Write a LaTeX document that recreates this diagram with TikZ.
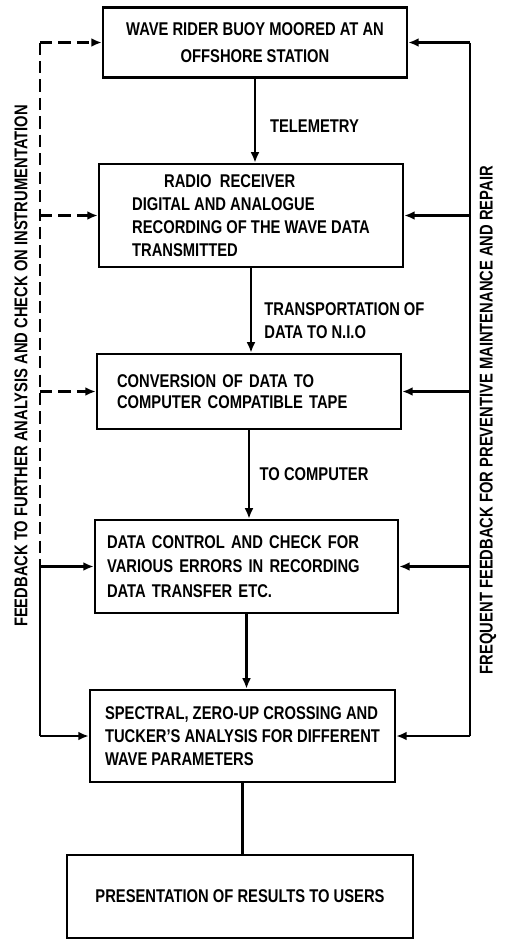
\documentclass[tikz,border=0pt]{standalone}
\usepackage{fontspec}
\setmainfont{Liberation Sans}[FakeStretch=0.8]
\usetikzlibrary{arrows.meta,positioning}

\begin{document}
\begin{tikzpicture}[
  x=0.02cm, y=-0.02cm,
  box/.style={draw, line width=1.4pt, align=left, inner sep=0pt,
              font=\fontsize{10.5}{13}\selectfont\bfseries},
  lbl/.style={inner sep=0pt, align=left, font=\fontsize{10.5}{13}\selectfont\bfseries},
  flow/.style={line width=1.2pt, -{Latex[length=6pt,width=5pt]}},
  fb/.style={line width=1.2pt},
  fbdash/.style={fb, dash pattern=on 7pt off 3.5pt}
]
\useasboundingbox (0,0) rectangle (508,941);

% main chain
\node[box, minimum width=6.08cm, minimum height=1.4cm, align=center,
      font=\fontsize{10.5}{15}\selectfont\bfseries] (buoy) at (255,42.5)
  {WAVE RIDER BUOY MOORED AT AN\\OFFSHORE STATION};
\node[box, minimum width=6.08cm, minimum height=2.06cm] (radio) at (251,215.5)
  {\hspace*{0.64cm}RADIO\ \ RECEIVER\\DIGITAL AND ANALOGUE\\
   RECORDING OF THE WAVE DATA\\TRANSMITTED};
\node[box, minimum width=6.08cm, minimum height=1.5cm, text width=5.28cm,
      font=\fontsize{10.5}{12}\selectfont\bfseries] (conv) at (249,391.5)
  {CONVERSION OF DATA TO\\COMPUTER COMPATIBLE TAPE};
\node[box, minimum width=6.06cm, minimum height=1.86cm, text width=5.58cm,
      font=\fontsize{10.5}{14}\selectfont\bfseries] (check) at (246.5,566.5)
  {DATA CONTROL AND CHECK FOR\\VARIOUS ERRORS IN RECORDING\\DATA TRANSFER ETC.};
\node[box, minimum width=6.1cm, minimum height=1.84cm] (anal) at (242.5,736)
  {SPECTRAL, ZERO-UP CROSSING AND\\TUCKER'S ANALYSIS FOR DIFFERENT\\WAVE PARAMETERS};
\node[box, minimum width=6.92cm, minimum height=1.66cm, align=center] (pres) at (240,896.5)
  {PRESENTATION OF RESULTS TO USERS};

\draw[flow] (buoy.south) -- node[lbl, right=8pt, pos=0.57] {TELEMETRY}
  (buoy.south |- radio.north);
\draw[flow] (radio.south) -- node[lbl, right=7pt, pos=0.62] {TRANSPORTATION OF\\DATA TO N.I.O}
  (radio.south |- conv.north);
\draw[flow] (conv.south) -- node[lbl, right=5.5pt] {TO COMPUTER}
  (conv.south |- check.north);
\draw[flow] (check.south) -- (check.south |- anal.north);
\draw[fb] (anal.south) -- (anal.south |- pres.north);

% feedback on the left
\coordinate (lbus) at (40,0);
\draw[fbdash] (lbus |- buoy.west) -- (lbus |- check.west);
\draw[fb] (lbus |- check.west) -- (lbus |- anal.west);
\draw[fbdash, flow] (lbus |- buoy.west) -- (buoy.west);
\draw[fbdash, flow] (lbus |- radio.west) -- (radio.west);
\draw[fbdash, flow] (lbus |- conv.west) -- (conv.west);
\draw[flow] (lbus |- check.west) -- (check.west);
\draw[flow] (lbus |- anal.west) -- (anal.west);
\node[lbl, rotate=90] (fbleft) at (21,366)
  {FEEDBACK TO FURTHER ANALYSIS AND CHECK ON INSTRUMENTATION};

% feedback on the right
\coordinate (rbus) at (470,0);
\draw[fb] (rbus |- buoy.east) -- (rbus |- anal.east);
\foreach \b in {buoy,radio,conv,check,anal}
  \draw[flow] (rbus |- \b.east) -- (\b.east);
\node[lbl, rotate=90] (fbright) at (488,420)
  {FREQUENT FEEDBACK FOR PREVENTIVE MAINTENANCE AND REPAIR};
\end{tikzpicture}
\end{document}
